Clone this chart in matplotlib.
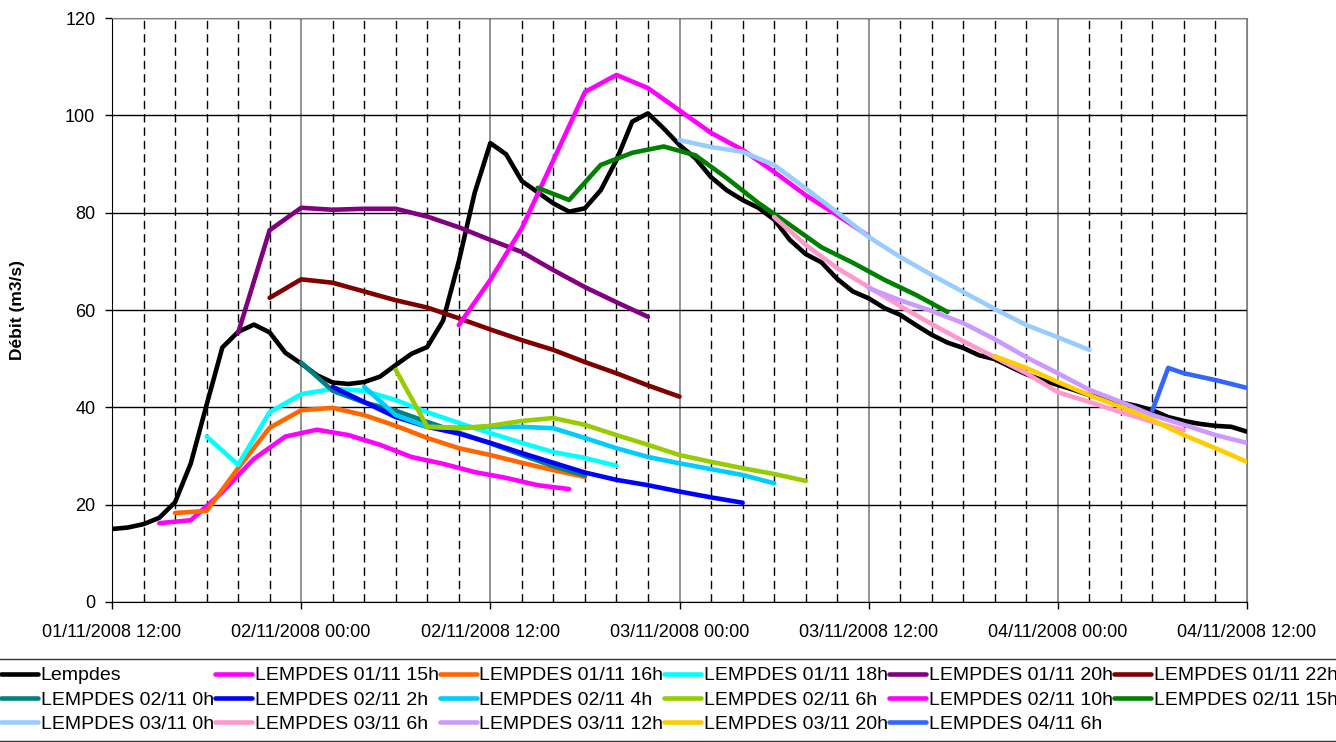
import matplotlib
matplotlib.use('Agg')
import matplotlib.pyplot as plt
from matplotlib.ticker import MultipleLocator

plt.rcParams['font.family'] = ['Liberation Sans', 'DejaVu Sans']

# hours after 01/11/2008 12:00
tick_hours = [0, 12, 24, 36, 48, 60, 72]
tick_labels = ['01/11/2008 12:00', '02/11/2008 00:00', '02/11/2008 12:00',
               '03/11/2008 00:00', '03/11/2008 12:00', '04/11/2008 00:00',
               '04/11/2008 12:00']

# observed flow, hourly
obs_h = list(range(73))
obs_q = [15.0, 15.3, 16.0, 17.3, 20.5, 28.5, 40.5, 52.3, 55.5, 57.0,
         55.4, 51.2, 49.0, 46.6, 45.1, 44.8, 45.2, 46.3, 48.7, 51.0,
         52.4, 57.8, 70.0, 84.0, 94.3, 92.0, 86.5, 84.2, 81.9, 80.2,
         80.9, 84.6, 90.8, 98.7, 100.4, 97.3, 93.9, 91.2, 87.3, 84.6,
         82.6, 81.0, 78.6, 74.4, 71.5, 69.8, 66.4, 63.8, 62.4, 60.4,
         59.0, 56.9, 54.9, 53.3, 52.2, 50.7, 49.9, 48.3, 46.8, 45.6,
         44.6, 43.6, 42.5, 41.7, 41.0, 40.3, 39.4, 38.0, 37.2, 36.6,
         36.2, 36.0, 35.0]

# forecasts
f1_h = [3, 5, 7, 9, 11, 13, 15, 17, 19, 21, 23, 25, 27, 29]
f1_q = [16.2, 16.8, 22.6, 29.4, 34.0, 35.4, 34.3, 32.3, 29.8, 28.4, 26.7, 25.5, 24.0, 23.2]
f2_h = [4, 6, 8, 10, 12, 14, 16, 18, 20, 22, 24, 26, 28, 30]
f2_q = [18.3, 18.7, 27.5, 35.8, 39.4, 39.9, 38.4, 36.2, 33.7, 31.6, 30.2, 28.6, 27.1, 25.7]
f3_h = [6, 8, 10, 12, 14, 16, 18, 20, 22, 24, 26, 28, 30, 32]
f3_q = [34.0, 28.2, 39.0, 42.7, 43.8, 43.4, 41.5, 39.0, 36.8, 34.7, 32.7, 30.8, 29.6, 28.0]
f4_h = [8, 10, 12, 14, 16, 18, 20, 22, 24, 26, 28, 30, 32, 34]
f4_q = [55.3, 76.4, 81.0, 80.6, 80.8, 80.8, 79.2, 77.0, 74.4, 71.9, 68.2, 64.7, 61.6, 58.6]
f5_h = [10, 12, 14, 16, 18, 20, 22, 24, 26, 28, 30, 32, 34, 36]
f5_q = [62.5, 66.3, 65.6, 63.8, 62.0, 60.5, 58.3, 56.0, 53.8, 51.8, 49.3, 47.0, 44.5, 42.2]
f6_h = [12, 14, 16, 18, 20, 22, 24, 26, 28, 30]
f6_q = [49.2, 43.4, 41.0, 39.3, 37.0, 34.8, 32.6, 30.2, 27.9, 26.0]
f7_h = [14, 16, 18, 20, 22, 24, 26, 28, 30, 32, 34, 36, 38, 40]
f7_q = [44.2, 41.1, 38.0, 36.0, 34.6, 32.7, 30.6, 28.6, 26.6, 25.1, 24.0, 22.7, 21.5, 20.4]
f8_h = [16, 18, 20, 22, 24, 26, 28, 30, 32, 34, 36, 38, 40, 42]
f8_q = [44.2, 38.4, 36.0, 35.8, 36.0, 36.0, 35.7, 33.7, 31.6, 29.8, 28.5, 27.3, 26.1, 24.4]
f9_h = [18, 20, 22, 24, 26, 28, 30, 32, 34, 36, 38, 40, 42, 44]
f9_q = [47.7, 36.0, 35.7, 36.2, 37.2, 37.8, 36.4, 34.3, 32.3, 30.2, 28.8, 27.5, 26.3, 24.9]
f10_h = [22, 24, 26, 28, 30, 32, 34, 36, 38, 40, 42, 44, 46, 48]
f10_q = [56.9, 66.2, 76.8, 90.8, 104.8, 108.3, 105.6, 101.0, 96.4, 92.9, 88.4, 83.6, 79.5, 75.2]
f11_h = [27, 29, 31, 33, 35, 37, 39, 41, 43, 45, 47, 49, 51, 53]
f11_q = [85.1, 82.6, 89.8, 92.3, 93.6, 91.8, 87.1, 82.0, 77.5, 72.9, 69.7, 66.2, 63.1, 59.6]
f12_h = [36, 38, 40, 42, 44, 46, 48, 50, 52, 54, 56, 58, 60, 62]
f12_q = [94.9, 93.5, 92.5, 89.8, 85.0, 80.1, 75.0, 70.9, 67.2, 63.7, 60.2, 56.9, 54.4, 51.8]
f13_h = [42, 44, 46, 48, 50, 52, 54, 56, 58, 60, 62, 64, 66, 68]
f13_q = [79.1, 73.4, 68.6, 64.7, 60.8, 57.1, 53.6, 50.3, 47.0, 43.1, 41.1, 39.0, 37.0, 35.3]
f14_h = [48, 50, 52, 54, 56, 58, 60, 62, 64, 66, 68, 70, 72]
f14_q = [64.5, 62.0, 59.8, 57.3, 54.0, 50.3, 47.0, 43.6, 41.1, 38.4, 36.4, 34.3, 32.7]
f15_h = [56, 58, 60, 62, 64, 66, 68, 70, 72]
f15_q = [50.5, 48.1, 45.2, 42.5, 40.1, 37.4, 34.3, 31.6, 28.8]
f16_h = [66, 67, 68, 70, 72]
f16_q = [39.4, 48.1, 47.0, 45.6, 44.0]

series = [
    ('Lempdes', obs_h, obs_q, '#000000'),
    ('LEMPDES 01/11 15h', f1_h, f1_q, '#FF00FF'),
    ('LEMPDES 01/11 16h', f2_h, f2_q, '#FF6600'),
    ('LEMPDES 01/11 18h', f3_h, f3_q, '#00FFFF'),
    ('LEMPDES 01/11 20h', f4_h, f4_q, '#800080'),
    ('LEMPDES 01/11 22h', f5_h, f5_q, '#800000'),
    ('LEMPDES 02/11 0h', f6_h, f6_q, '#008080'),
    ('LEMPDES 02/11 2h', f7_h, f7_q, '#0000FF'),
    ('LEMPDES 02/11 4h', f8_h, f8_q, '#00CCFF'),
    ('LEMPDES 02/11 6h', f9_h, f9_q, '#99CC00'),
    ('LEMPDES 02/11 10h', f10_h, f10_q, '#FF00FF'),
    ('LEMPDES 02/11 15h', f11_h, f11_q, '#008000'),
    ('LEMPDES 03/11 0h', f12_h, f12_q, '#99CCFF'),
    ('LEMPDES 03/11 6h', f13_h, f13_q, '#FF99CC'),
    ('LEMPDES 03/11 12h', f14_h, f14_q, '#CC99FF'),
    ('LEMPDES 03/11 20h', f15_h, f15_q, '#FFCC00'),
    ('LEMPDES 04/11 6h', f16_h, f16_q, '#3366FF'),
]

fig = plt.figure(figsize=(13.36, 7.42), dpi=100)
ax = fig.add_axes([112/1336, 1 - 602/742, 1135/1336, 584/742])

lines = []
for label, h, q, c in series:
    ln, = ax.plot(h, q, color=c, lw=3.3, label=label, solid_capstyle='round')
    lines.append(ln)

ax.set_xlim(0, 72)
ax.set_ylim(0, 120)
ax.set_xticks(tick_hours, tick_labels)
ax.xaxis.set_minor_locator(MultipleLocator(2))
ax.yaxis.set_major_locator(MultipleLocator(20))
ax.tick_params(axis='both', which='major', labelsize=13, length=5, width=1)
ax.tick_params(axis='x', which='major', pad=11)
ax.tick_params(axis='y', which='major', pad=7)
ax.tick_params(axis='x', which='minor', length=0)

ax.grid(axis='y', which='major', color='black', lw=1)
ax.grid(axis='x', which='major', color='#808080', lw=1.2)
ax.grid(axis='x', which='minor', color='black', lw=1, linestyle=(0, (6, 3.6)))
ax.set_axisbelow(True)
for side in ['top', 'right']:
    ax.spines[side].set_color('#808080')
ax.spines['left'].set_color('black')
ax.spines['bottom'].set_color('black')

ax.set_ylabel('Débit (m3/s)', fontsize=12.5, fontweight='bold')
ax.yaxis.set_label_coords(-0.077, 0.5)

# legend: 6 columns, filled row by row as in the original
ncol = 6
order = []
for col in range(ncol):
    for row in range(3):
        i = row * ncol + col
        if i < len(lines):
            order.append(i)
leg = fig.legend([lines[i] for i in order], [series[i][0] for i in order],
                 loc='upper left', bbox_to_anchor=(-7/1336, 1 - 659/742), ncol=ncol,
                 fontsize=14, frameon=True, fancybox=False, borderaxespad=0,
                 handlelength=1.9, handletextpad=0.15, columnspacing=0.05,
                 labelspacing=0.34, borderpad=0.4)
leg.get_frame().set_edgecolor('black')
leg.get_frame().set_linewidth(1)

plt.savefig('out.png', dpi=100)
